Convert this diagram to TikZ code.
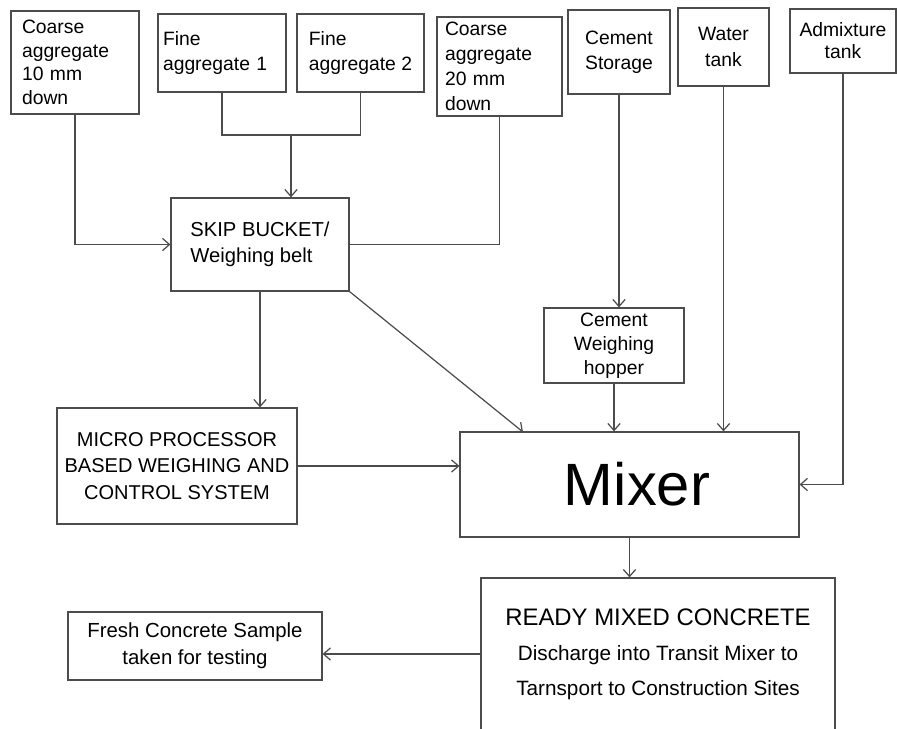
\documentclass[tikz,border=0pt]{standalone}
\usepackage{fontspec}
\setmainfont{Liberation Sans}
\usetikzlibrary{arrows.meta}
\begin{document}
\begin{tikzpicture}[x=0.02cm,y=-0.02cm,line width=0.7pt,
        >={Straight Barb[length=4pt,width=7pt]}]
        \useasboundingbox (0,0) rectangle (897,729);
        \clip (0,0) rectangle (897,729);
        \begin{scope}[every node/.style={draw=black!70,line width=0.7pt,
                        inner sep=0pt,align=center,
                        font=\fontsize{11}{13.4}\selectfont}]
            % stores
            \node (A) at (75,62.5) [minimum width=2.56cm,minimum height=2.06cm,
                text width=2.12cm,inner xsep=0.22cm,align=left]
                {Coarse\\aggregate\\10 mm\\down};
            \node (B) at (222,53) [minimum width=2.56cm,minimum height=1.56cm,
                text width=2.36cm,inner xsep=0.1cm,align=left,
                font=\fontsize{11}{13.8}\selectfont] {Fine\\aggregate 1};
            \node (C) at (360.5,53) [minimum width=2.54cm,minimum height=1.56cm,
                align=left,font=\fontsize{11}{13.8}\selectfont] {Fine\\aggregate 2};
            \node (D) at (499.5,66.5) [minimum width=2.5cm,minimum height=1.98cm,
                text width=2.18cm,inner xsep=0.16cm,align=left,
                font=\fontsize{11}{14.2}\selectfont]
                {Coarse\\aggregate\\20 mm\\down};
            \node (E) at (619,52) [minimum width=2.04cm,minimum height=1.68cm,
                font=\fontsize{11}{14.2}\selectfont] {Cement\\Storage};
            \node (F) at (723.5,47) [minimum width=1.82cm,minimum height=1.56cm,
                font=\fontsize{11}{15}\selectfont] {Water\\tank};
            \node (G) at (843,41) [minimum width=2.12cm,minimum height=1.28cm,
                font=\fontsize{11}{12.5}\selectfont] {Admixture\\tank};
            % weighing
            \node (H) at (260,244.5) [minimum width=3.56cm,minimum height=1.86cm,
                align=left,font=\fontsize{11.5}{14.8}\selectfont]
                {SKIP BUCKET/\\Weighing belt};
            \node (I) at (614,345.5) [minimum width=2.8cm,minimum height=1.5cm,
                font=\fontsize{11}{13.6}\selectfont] {Cement\\Weighing\\hopper};
            \node (J) at (177,466) [minimum width=4.8cm,minimum height=2.32cm,
                font=\fontsize{11.4}{15}\selectfont]
                {MICRO PROCESSOR\\BASED WEIGHING AND\\CONTROL SYSTEM};
            % mixing
            \node (K) at (629.5,484.5) [minimum width=6.78cm,minimum height=2.1cm,
                font=\fontsize{34}{40}\selectfont] {\hspace{0.3cm}Mixer};
            \node (L) at (658,654) [minimum width=7.08cm,minimum height=3.04cm,
                font=\fontsize{11.8}{19.9}\selectfont]
                {{\fontsize{13.6}{19.9}\selectfont READY MIXED CONCRETE}\\
                 Discharge into Transit Mixer to\\
                 Tarnsport to Construction Sites};
            \node (M) at (195,646) [minimum width=5.08cm,minimum height=1.36cm,
                font=\fontsize{11.6}{15.3}\selectfont]
                {Fresh Concrete Sample\\taken for testing};
        \end{scope}

        \coordinate (P) at (291,135);
        \coordinate (Q) at (523,432);

        \draw[draw=black!70] (B.south) |- (P) -| (C.south);
        \draw[draw=black!70,->] (P) -- (P |- H.north);
        \draw[draw=black!70,->] (A.south) |- (H.west);
        \draw[draw=black!70] (D.south) |- (H.east);
        \draw[draw=black!70,->] (H.south) -- (H.south |- J.north);
        \draw[draw=black!70,->] (H.south east) -- (Q);
        \draw[draw=black!70,->] (E.south) -- (E.south |- I.north);
        \draw[draw=black!70,->] (I.south) -- (I.south |- K.north);
        \draw[draw=black!70,->] (F.south) -- (F.south |- K.north);
        \draw[draw=black!70,->] (G.south) |- (K.east);
        \draw[draw=black!70,->] (J.east) -- (J.east -| K.west);
        \draw[draw=black!70,->] (K.south) -- (K.south |- L.north);
        \draw[draw=black!70,->] (L.west) -- (L.west -| M.east);
    \end{tikzpicture}
\end{document}
